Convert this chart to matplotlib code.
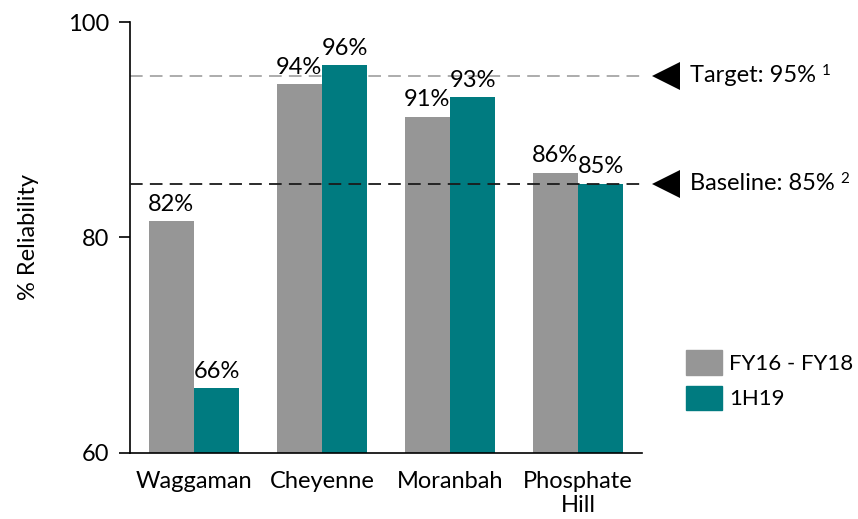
import matplotlib.pyplot as plt
import matplotlib.transforms as mtransforms
from matplotlib.patches import Patch
import numpy as np

plt.rcParams['font.family'] = ['Lato', 'DejaVu Sans']

# data
sites = ['Waggaman', 'Cheyenne', 'Moranbah', 'Phosphate\nHill']
fy16_18 = [81.5, 94.2, 91.2, 86.0]
h1_19 = [66.0, 96.0, 93.0, 85.0]
labels_fy = ['82%', '94%', '91%', '86%']
labels_h1 = ['66%', '96%', '93%', '85%']
target = 95
baseline = 85

grey = '#969696'
teal = '#007b80'
fs = 17

fig = plt.figure(figsize=(8.58, 5.19), dpi=100)
ax = fig.add_axes([0.1515, 0.1272, 0.5967, 0.8304])

x = np.arange(len(sites))
w = 0.355
ax.bar(x - w / 2, fy16_18, w, color=grey, zorder=2)
ax.bar(x + w / 2, h1_19, w, color=teal, zorder=2)

for xi, v, s in zip(x - w / 2, fy16_18, labels_fy):
    ax.text(xi, v + 0.6, s, ha='center', va='bottom', fontsize=fs)
for xi, v, s in zip(x + w / 2, h1_19, labels_h1):
    ax.text(xi, v + 0.6, s, ha='center', va='bottom', fontsize=fs)

# reference lines, running slightly beyond the axes
trans = mtransforms.blended_transform_factory(ax.transAxes, ax.transData)
ax.plot([0, 1.006], [target, target], transform=trans, color='#a6a6a6',
        lw=1.3, dashes=(7, 4), clip_on=False, zorder=1)
ax.plot([0, 1.006], [baseline, baseline], transform=trans, color='#1a1a1a',
        lw=1.3, dashes=(7, 4), clip_on=False, zorder=3)

for yv, txt, sup in [(target, 'Target: 95%', '1'), (baseline, 'Baseline: 85%', '2')]:
    ax.plot([1.047], [yv], transform=trans, marker='<', ms=20, color='black',
            clip_on=False, markeredgewidth=0)
    t = ax.text(1.094, yv, txt, transform=trans, va='center', ha='left', fontsize=fs)
    ax.annotate(sup, xy=(1, 1), xycoords=t, xytext=(4, 1), textcoords='offset points',
                va='top', ha='left', fontsize=11)

ax.set_xlim(-0.5, 3.5)
ax.set_ylim(60, 100)
ax.set_yticks([60, 80, 100])
ax.set_xticks(x)
ax.set_xticklabels(sites, fontsize=fs)
ax.tick_params(axis='y', labelsize=fs, length=8, width=1.2, pad=7)
ax.tick_params(axis='x', length=0, pad=13)
ax.spines['top'].set_visible(False)
ax.spines['right'].set_visible(False)
ax.spines['left'].set_linewidth(1.2)
ax.spines['bottom'].set_linewidth(1.2)
ax.set_ylabel('% Reliability', fontsize=fs, labelpad=21)

handles = [Patch(color=grey, label='FY16 - FY18'), Patch(color=teal, label='1H19')]
fig.legend(handles=handles, loc='upper left', bbox_to_anchor=(0.799, 0.325),
           frameon=False, fontsize=16, handlelength=1.65, handleheight=1.3,
           handletextpad=0.3, labelspacing=0.5, borderaxespad=0, borderpad=0)

fig.savefig('out.png', dpi=100)
